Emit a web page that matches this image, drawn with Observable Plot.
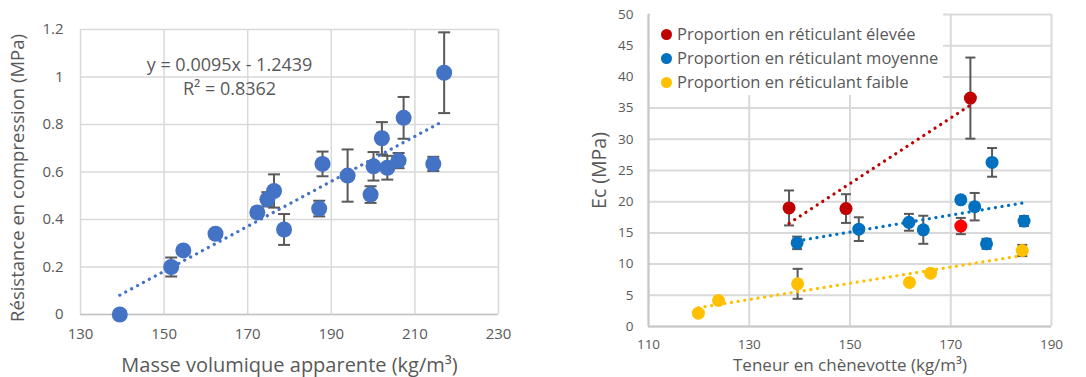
<!DOCTYPE html>
<html><head><meta charset="utf-8">
<script src="https://cdn.jsdelivr.net/npm/d3@7"></script>
<script src="https://cdn.jsdelivr.net/npm/@observablehq/plot@0.6"></script>
<style>
body{margin:0;background:#fff;font-family:"Open Sans",sans-serif;}
#wrap{display:flex;width:1086px;height:377px;overflow:hidden;}
.panel{position:relative;}
.legend{position:absolute;background:#fff;}
.legend .row{position:absolute;left:0;height:24px;white-space:nowrap;color:#595959;font-size:16.5px;line-height:24px;}
.legend .sw{position:absolute;width:11px;height:11px;border-radius:50%;top:6.5px;}
.legend .tx{position:absolute;top:0;}
</style></head><body>
<div id="wrap"><div id="left" class="panel"></div><div id="right" class="panel"></div></div>
<script>
// ---- Left chart data ----
const leftX = [139.4,151.7,154.6,162.3,172.3,174.7,176.3,178.7,187.1,187.9,193.9,199.4,200.1,202.1,203.4,206.1,207.3,214.4,217.0];
const leftY = [0,0.20,0.27,0.34,0.43,0.485,0.52,0.358,0.446,0.634,0.585,0.505,0.624,0.742,0.618,0.648,0.828,0.634,1.018];
const leftErr = [0,0.04,0,0,0.02,0.03,0.07,0.065,0.033,0.052,0.11,0.035,0.06,0.068,0.05,0.032,0.088,0.03,0.17];
const leftXTicks = [130,150,170,190,210,230];
const leftYTicks = [0,0.2,0.4,0.6,0.8,1,1.2];
const leftXTitle = "Masse volumique apparente (kg/m³)";
const leftYTitle = "Résistance en compression (MPa)";
const eqLine1 = "y = 0.0095x - 1.2439";
const eqLine2 = "R² = 0.8362";

// ---- Right chart data ----
const highX = [137.9,149.2,173.9];
const highY = [19.0,18.9,36.6];
const highErr = [2.8,2.3,6.5];
const extraX = [172.0];
const extraY = [16.1];
const extraErr = [1.3];
const midX = [139.5,151.75,161.7,164.55,172.0,174.75,177.1,178.2,184.55];
const midY = [13.4,15.6,16.7,15.5,20.3,19.2,13.25,26.3,16.9];
const midErr = [1.0,1.9,1.35,2.25,0.5,2.2,0.8,2.3,0.8];
const lowX = [119.9,123.9,139.6,161.8,166.0,184.2];
const lowY = [2.14,4.17,6.84,7.05,8.55,12.18];
const lowErr = [0,0,2.4,0,0,0.9];
const rightXTicks = [110,130,150,170,190];
const rightYTicks = [0,5,10,15,20,25,30,35,40,45,50];
const rightXTitle = "Teneur en chènevotte (kg/m³)";
const rightYTitle = "Ec (MPa)";
const legendLabels = ["Proportion en réticulant élevée","Proportion en réticulant moyenne","Proportion en réticulant faible"];
const legendColors = ["#C00000","#0070C0","#FFC000"];

const toRows = (xs, ys, es) => xs.map((x,i)=>({x, y:ys[i], e:es[i]}));
const capSymbol = {draw(ctx, size){const w=Math.sqrt(size/Math.PI); ctx.moveTo(-w,0); ctx.lineTo(w,0);}};
const ERR = "#595959";
const GRID = "#d9d9d9";
const FONT = "'Open Sans', sans-serif";
const dotted = {strokeWidth:3.2, strokeDasharray:"0.1,6.6", strokeLinecap:"round", ci:0};

function errMarks(data, cap){
  return [
    Plot.ruleX(data, {x:"x", y1:d=>d.y-d.e, y2:d=>d.y+d.e, stroke:ERR, strokeWidth:2, filter:d=>d.e>0}),
    Plot.dot(data, {x:"x", y:d=>d.y+d.e, symbol:capSymbol, r:cap, stroke:ERR, strokeWidth:2, fill:"none", filter:d=>d.e>0}),
    Plot.dot(data, {x:"x", y:d=>d.y-d.e, symbol:capSymbol, r:cap, stroke:ERR, strokeWidth:2, fill:"none", filter:d=>d.e>0})
  ];
}

const leftData = toRows(leftX, leftY, leftErr);
const left = Plot.plot({
  width:540, height:377, marginLeft:80, marginRight:42, marginTop:29, marginBottom:63,
  x:{domain:[130,230]}, y:{domain:[0,1.2]},
  style:{fontFamily:FONT, color:"#595959", background:"#fff", overflow:"visible"},
  marks:[
    Plot.gridX(leftXTicks, {stroke:GRID, strokeOpacity:1, strokeWidth:1.5}),
    Plot.gridY(leftYTicks, {stroke:GRID, strokeOpacity:1, strokeWidth:1.5}),
    Plot.ruleY([0], {stroke:"#c4c4c4", strokeWidth:1.5}),
    Plot.axisX(leftXTicks, {tickSize:0, tickPadding:14, fontSize:15, label:null}),
    Plot.axisY(leftYTicks, {tickSize:0, tickPadding:17, fontSize:15, label:null, tickFormat:d=>`${d}`}),
    ...errMarks(leftData, 6),
    Plot.dot(leftData, {x:"x", y:"y", r:8, fill:"#4472C4"}),
    Plot.linearRegressionY(leftData, {x:"x", y:"y", stroke:"#4472C4", ...dotted}),
    Plot.text([eqLine1], {frameAnchor:"top-left", dx:149, dy:36, textAnchor:"middle", lineAnchor:"middle", fontSize:18, fill:"#595959"}),
    Plot.text([eqLine2], {frameAnchor:"top-left", dx:149, dy:60, textAnchor:"middle", lineAnchor:"middle", fontSize:18, fill:"#595959"}),
    Plot.text([leftXTitle], {frameAnchor:"bottom", dy:51, lineAnchor:"middle", fontSize:20, fill:"#595959"}),
    Plot.text([leftYTitle], {frameAnchor:"left", dx:-62, dy:6, rotate:-90, textAnchor:"middle", lineAnchor:"middle", fontSize:18.5, fill:"#595959"})
  ]
});
document.getElementById("left").appendChild(left);

const highData = toRows(highX, highY, highErr);
const extraData = toRows(extraX, extraY, extraErr);
const midData = toRows(midX, midY, midErr);
const lowData = toRows(lowX, lowY, lowErr);
const right = Plot.plot({
  width:546, height:377, marginLeft:108, marginRight:35, marginTop:14, marginBottom:51,
  x:{domain:[110,190]}, y:{domain:[0,50]},
  style:{fontFamily:FONT, color:"#595959", background:"#fff", overflow:"visible"},
  marks:[
    Plot.gridX(rightXTicks, {stroke:GRID, strokeOpacity:1, strokeWidth:2}),
    Plot.gridY(rightYTicks, {stroke:GRID, strokeOpacity:1, strokeWidth:2}),
    Plot.ruleY([0], {stroke:"#c8c8c8", strokeWidth:2}),
    Plot.ruleX([110], {stroke:"#c8c8c8", strokeWidth:2}),
    Plot.axisX(rightXTicks, {tickSize:0, tickPadding:13, fontSize:13.5, label:null}),
    Plot.axisY(rightYTicks, {tickSize:0, tickPadding:15, fontSize:13.5, label:null}),
    ...errMarks(highData, 5), ...errMarks(extraData, 5), ...errMarks(midData, 5), ...errMarks(lowData, 5),
    Plot.dot(highData, {x:"x", y:"y", r:6.5, fill:"#C00000"}),
    Plot.dot(extraData, {x:"x", y:"y", r:6.5, fill:"#FF0000"}),
    Plot.dot(midData, {x:"x", y:"y", r:6.5, fill:"#0070C0"}),
    Plot.dot(lowData, {x:"x", y:"y", r:6.5, fill:"#FFC000"}),
    Plot.linearRegressionY(highData, {x:"x", y:"y", stroke:"#C00000", ...dotted}),
    Plot.linearRegressionY(midData, {x:"x", y:"y", stroke:"#0070C0", ...dotted}),
    Plot.linearRegressionY(lowData, {x:"x", y:"y", stroke:"#FFC000", ...dotted}),
    Plot.text([rightXTitle], {frameAnchor:"bottom", dy:39.5, lineAnchor:"middle", fontSize:17, fill:"#595959"}),
    Plot.text([rightYTitle], {frameAnchor:"left", dx:-49, rotate:-90, textAnchor:"middle", lineAnchor:"middle", fontSize:19.5, fill:"#595959"})
  ]
});
const rp = document.getElementById("right");
rp.appendChild(right);
const lg = document.createElement("div");
lg.className = "legend";
Object.assign(lg.style, {left:"110px", top:"13px", width:"293px", height:"82px"});
legendLabels.forEach((lab, i) => {
  const row = document.createElement("div");
  row.className = "row";
  row.style.top = (9 + i*24) + "px";
  const sw = document.createElement("span");
  sw.className = "sw"; sw.style.background = legendColors[i]; sw.style.left = "11px";
  const tx = document.createElement("span");
  tx.className = "tx"; tx.style.left = "27px"; tx.textContent = lab;
  row.appendChild(sw); row.appendChild(tx);
  lg.appendChild(row);
});
rp.appendChild(lg);
</script></body></html>
